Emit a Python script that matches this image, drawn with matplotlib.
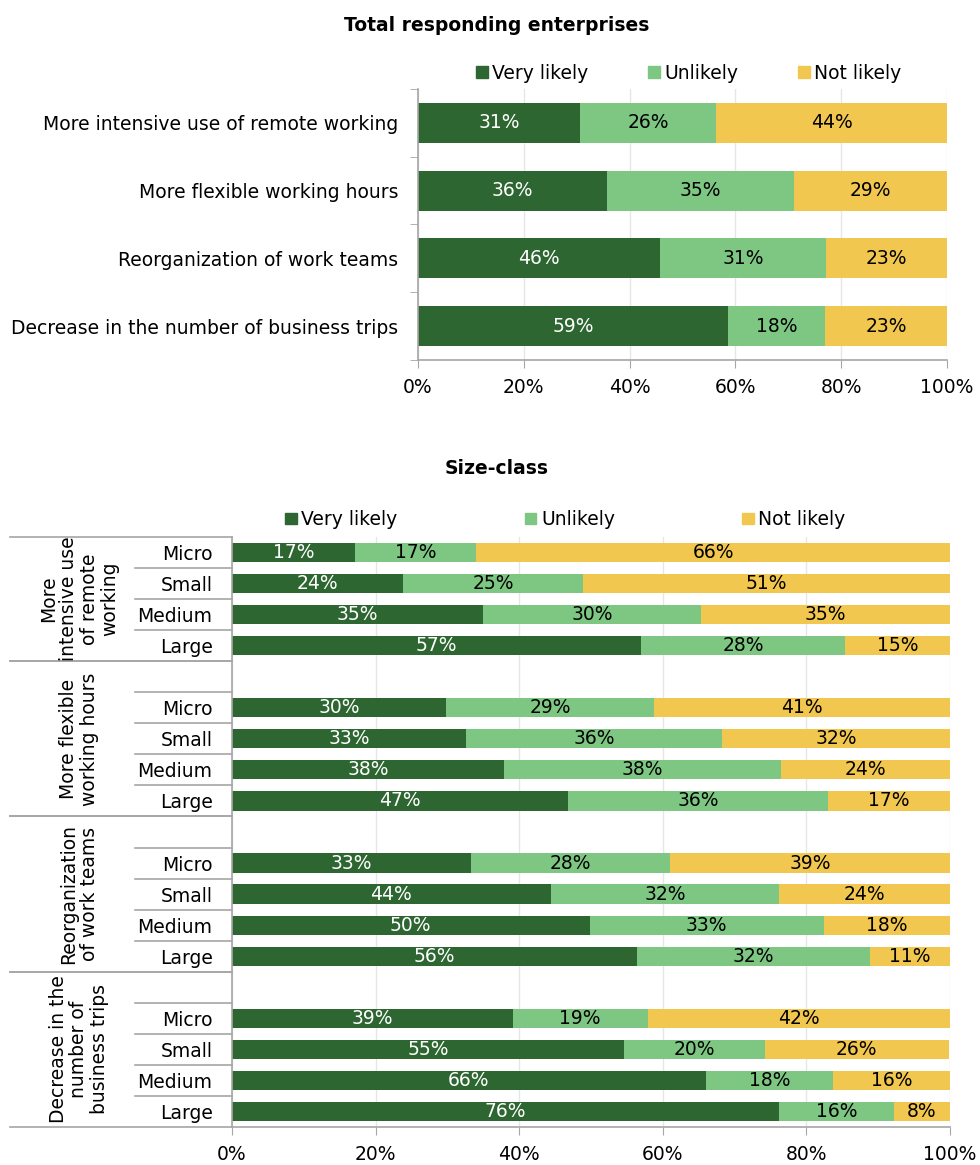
import matplotlib
matplotlib.use('Agg')
import matplotlib.pyplot as plt
from matplotlib.patches import Patch
from matplotlib.lines import Line2D
from matplotlib.transforms import blended_transform_factory
import numpy as np

plt.rcParams['font.family'] = ['DejaVu Sans']

# --- data ---
measures = ['More intensive use of remote working',
            'More flexible working hours',
            'Reorganization of work teams',
            'Decrease in the number of business trips']
answers = ['Very likely', 'Unlikely', 'Not likely']
colors = ['#2D6630', '#7DC783', '#F2C74F']
text_colors = ['white', 'black', 'black']

total_very = [30.6, 35.7, 45.7, 58.6]
total_unlikely = [25.7, 35.4, 31.4, 18.3]
total_not = [43.7, 28.9, 22.9, 23.1]

sizes = ['Micro', 'Small', 'Medium', 'Large']
group_labels = ['More\nintensive use\nof remote\nworking',
                'More flexible\nworking hours',
                'Reorganization\nof work teams',
                'Decrease in the\nnumber of\nbusiness trips']
size_very = [[17.1, 23.8, 35.0, 57.0],
             [29.8, 32.6, 37.9, 46.8],
             [33.3, 44.4, 49.8, 56.4],
             [39.1, 54.6, 66.0, 76.2]]
size_unlikely = [[16.9, 25.1, 30.3, 28.4],
                 [29.0, 35.6, 38.5, 36.2],
                 [27.7, 31.8, 32.6, 32.4],
                 [18.8, 19.6, 17.7, 16.0]]
size_not = [[66.0, 51.1, 34.7, 14.6],
            [41.2, 31.8, 23.6, 17.0],
            [39.0, 23.8, 17.6, 11.2],
            [42.1, 25.6, 16.3, 7.8]]

FS = 13.5
GRID = '#E6E6E6'
SPINE = '#A6A6A6'

fig = plt.figure(figsize=(9.8, 11.65), dpi=100)


def stacked(ax, ypos, series, height):
    left = np.zeros(len(ypos))
    for vals, c, tc in zip(series, colors, text_colors):
        vals = np.asarray(vals, dtype=float)
        ax.barh(ypos, vals, left=left, height=height, color=c, zorder=2)
        for y, l, v in zip(ypos, left, vals):
            ax.text(l + v / 2, y, f'{v:.0f}%', ha='center', va='center',
                    color=tc, fontsize=FS, zorder=3)
        left = left + vals


def style_x(ax):
    ax.set_xlim(0, 100)
    ax.set_xticks(np.arange(0, 101, 20))
    ax.set_xticklabels([f'{t}%' for t in range(0, 101, 20)], fontsize=FS)
    ax.xaxis.grid(True, color=GRID, lw=1, zorder=0)
    ax.tick_params(axis='x', length=6, color=SPINE, pad=7)
    for s in ['top', 'right']:
        ax.spines[s].set_visible(False)
    ax.spines['bottom'].set_color(SPINE)
    ax.spines['left'].set_color(SPINE)
    ax.spines['bottom'].set_linewidth(1.2)
    ax.spines['left'].set_linewidth(1.2)


def legend(x, y, spacing):
    handles = [Patch(color=c, label=a) for c, a in zip(colors, answers)]
    fig.legend(handles=handles, loc='center', bbox_to_anchor=(x, y),
               ncol=3, frameon=False, fontsize=FS, handlelength=0.6,
               handleheight=0.6, handletextpad=0.25, columnspacing=spacing)


# --- top chart: all responding enterprises ---
ax1 = fig.add_axes([0.4265, 0.691, 0.54, 0.2326])
ypos = np.arange(len(measures))
stacked(ax1, ypos, [total_very, total_unlikely, total_not], 0.59)
style_x(ax1)
ax1.set_ylim(len(measures) - 0.5, -0.5)
ax1.set_yticks(ypos)
ax1.set_yticklabels(measures, fontsize=FS)
ax1.set_yticks(np.arange(-0.5, len(measures)), minor=True)
ax1.tick_params(axis='y', which='major', length=0, pad=14)
ax1.tick_params(axis='y', which='minor', length=6, color=SPINE)
fig.text(0.507, 0.978, 'Total responding enterprises', ha='center',
         va='center', fontsize=FS, fontweight='bold')
legend(0.703, 0.937, 3.2)

# --- bottom chart: by size class ---
ax2 = fig.add_axes([0.2367, 0.0326, 0.7327, 0.5065])
slots = []
labels = []
sv, su, sn = [], [], []
pos = 0
group_span = []
for g in range(len(group_labels)):
    start = pos
    if g > 0:
        labels.append('')
        pos += 1
    for k, s in enumerate(sizes):
        slots.append(pos)
        labels.append(s)
        sv.append(size_very[g][k])
        su.append(size_unlikely[g][k])
        sn.append(size_not[g][k])
        pos += 1
    group_span.append((start - 0.5, pos - 0.5))
n_slots = pos

stacked(ax2, slots, [sv, su, sn], 0.62)
style_x(ax2)
ax2.set_ylim(n_slots - 0.5, -0.5)
ax2.set_yticks(range(n_slots))
ax2.set_yticklabels(labels, fontsize=FS)
ax2.tick_params(axis='y', length=0, pad=14)

# category table lines on the left
tr = blended_transform_factory(fig.transFigure, ax2.transData)
x_outer, x_inner, x_axis = 10 / 980, 135 / 980, 232 / 980
for g, (y0, y1) in enumerate(group_span):
    for yb in (y0, y1):
        fig.add_artist(Line2D([x_outer, x_axis], [yb, yb], transform=tr,
                              color=SPINE, lw=1.2))
    for yb in np.arange(y0 + 1, y1 - 0.5):
        fig.add_artist(Line2D([x_inner, x_axis], [yb, yb], transform=tr,
                              color=SPINE, lw=1.2))
    fig.text(79 / 980, (y0 + y1) / 2, group_labels[g], transform=tr,
             rotation=90, ha='center', va='center', fontsize=FS,
             linespacing=1.1, multialignment='center')

fig.text(0.507, 0.598, 'Size-class', ha='center', va='center',
         fontsize=FS, fontweight='bold')
legend(0.577, 0.554, 6.8)

fig.savefig('out.png', dpi=100)
